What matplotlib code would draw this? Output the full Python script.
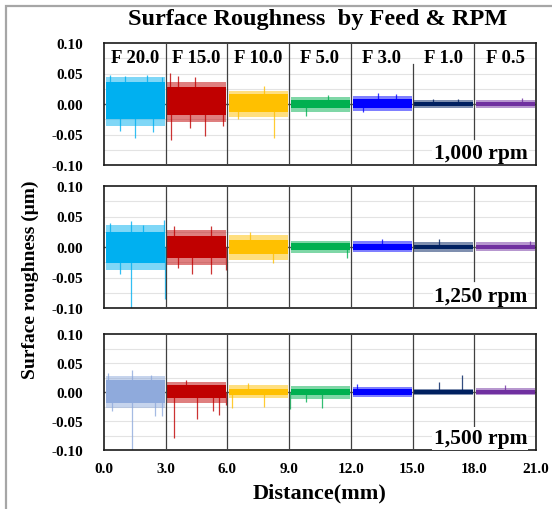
import matplotlib
matplotlib.use("Agg")
import matplotlib.pyplot as plt
from matplotlib.patches import Rectangle

plt.rcParams['font.family'] = ['Liberation Serif', 'DejaVu Serif']
plt.rcParams['font.weight'] = 'bold'

# ---------------- data ----------------
feeds = ["F 20.0", "F 15.0", "F 10.0", "F 5.0", "F 3.0", "F 1.0", "F 0.5"]
seg_start = [0.0, 3.0, 6.0, 9.0, 12.0, 15.0, 18.0]
rpm_labels = ["1,000 rpm", "1,250 rpm", "1,500 rpm"]
x_ticks = [0.0, 3.0, 6.0, 9.0, 12.0, 15.0, 18.0, 21.0]
y_ticks = [-0.10, -0.05, 0.00, 0.05, 0.10]

colors_1000 = ["#00B0F0", "#C00000", "#FFC000", "#00B050", "#0000FF", "#002060", "#7030A0"]
colors_1250 = ["#00B0F0", "#C00000", "#FFC000", "#00B050", "#0000FF", "#002060", "#7030A0"]
colors_1500 = ["#8FAADC", "#C00000", "#FFC000", "#00B050", "#0000FF", "#002060", "#7030A0"]

# dense band (core) and lighter fringe of each trace segment
core_up_1000 = [0.036, 0.028, 0.016, 0.007, 0.008, 0.004, 0.004]
core_lo_1000 = [-0.024, -0.018, -0.013, -0.007, -0.007, -0.004, -0.004]
fr_up_1000 = [0.044, 0.036, 0.022, 0.012, 0.013, 0.007, 0.007]
fr_lo_1000 = [-0.036, -0.030, -0.021, -0.013, -0.011, -0.006, -0.006]
spikes_1000 = [(0.3, 0.047), (1.0, 0.046), (2.1, 0.048), (2.8, 0.045), (1.5, -0.056), (0.8, -0.045),
               (2.4, -0.046), (3.2, 0.051), (3.6, 0.046), (4.4, 0.045), (3.25, -0.059), (4.9, -0.053),
               (5.8, -0.036), (4.2, -0.040), (7.8, 0.030), (8.25, -0.056), (6.5, -0.024),
               (9.8, -0.020), (10.9, 0.015), (13.3, 0.018), (14.2, 0.016), (12.6, -0.013),
               (16.0, 0.009), (17.2, 0.009), (20.3, 0.010)]

core_up_1250 = [0.025, 0.018, 0.011, 0.006, 0.005, 0.004, 0.004]
core_lo_1250 = [-0.026, -0.018, -0.011, -0.005, -0.005, -0.004, -0.004]
fr_up_1250 = [0.036, 0.028, 0.019, 0.010, 0.010, 0.009, 0.008]
fr_lo_1250 = [-0.038, -0.030, -0.022, -0.010, -0.009, -0.008, -0.007]
spikes_1250 = [(0.3, 0.040), (1.3, 0.043), (2.9, 0.044), (1.9, 0.036), (1.3, -0.100), (2.95, -0.085),
               (0.8, -0.045), (3.4, 0.035), (5.2, 0.035), (4.3, -0.045), (5.2, -0.044),
               (5.95, -0.037), (3.6, -0.035), (7.1, 0.025), (8.2, -0.027), (11.8, -0.018),
               (13.5, 0.013), (16.3, 0.013), (20.7, 0.010)]

core_up_1500 = [0.020, 0.012, 0.006, 0.005, 0.005, 0.003, 0.003]
core_lo_1500 = [-0.019, -0.011, -0.006, -0.005, -0.005, -0.003, -0.003]
fr_up_1500 = [0.027, 0.017, 0.012, 0.010, 0.009, 0.006, 0.007]
fr_lo_1500 = [-0.028, -0.019, -0.011, -0.012, -0.009, -0.005, -0.006]
spikes_1500 = [(0.2, 0.032), (1.35, 0.038), (2.3, 0.030), (1.35, -0.100), (2.5, -0.042), (2.8, -0.042),
               (0.4, -0.033), (3.4, -0.080), (4.5, -0.046), (5.3, -0.032), (5.6, -0.040),
               (5.95, -0.022), (4.0, 0.020), (6.2, -0.028), (7.8, -0.025), (7.0, 0.016),
               (9.05, -0.030), (10.6, -0.028), (9.8, -0.018), (12.3, 0.013), (16.3, 0.018),
               (17.4, 0.030), (19.5, 0.012)]

panels = [
    (rpm_labels[0], colors_1000, core_up_1000, core_lo_1000, fr_up_1000, fr_lo_1000, spikes_1000),
    (rpm_labels[1], colors_1250, core_up_1250, core_lo_1250, fr_up_1250, fr_lo_1250, spikes_1250),
    (rpm_labels[2], colors_1500, core_up_1500, core_lo_1500, fr_up_1500, fr_lo_1500, spikes_1500),
]

# ---------------- figure ----------------
W, H = 552, 510
fig = plt.figure(figsize=(W / 100, H / 100), dpi=100)
fig.patches.append(Rectangle((6 / W, -0.1), 2.0, 1.1 - 7 / H, transform=fig.transFigure,
                             fill=False, edgecolor="#A6A6A6", lw=1.6))

L, R = 104, 536
boxes = [(44, 166), (187, 309), (335, 451)]
axes = []
for top, bot in boxes:
    ax = fig.add_axes([L / W, 1 - bot / H, (R - L) / W, (bot - top) / H])
    axes.append(ax)

vline_cut = [{18.0: (-0.057, 0.1), 15.0: (-0.1, 0.065)},
             {18.0: (-0.055, 0.1)},
             {18.0: (-0.060, 0.1)}]

for i, (ax, pdata) in enumerate(zip(axes, panels)):
    rpm, cols, cu, cl, fu, fl, spk = pdata
    ax.set_xlim(0, 21)
    ax.set_ylim(-0.1, 0.1)
    for g in [-0.075, -0.05, -0.025, 0.025, 0.05, 0.075]:
        ax.axhline(g, color="#E3E3E3", lw=0.8, zorder=0)
    ax.axhline(0, color="#595959", lw=1.0, zorder=1)
    for k, xs in enumerate(seg_start):
        x0, x1 = xs + 0.08, xs + 2.95
        ax.fill_between([x0, x1], [fl[k], fl[k]], [fu[k], fu[k]], color=cols[k], alpha=0.5,
                        lw=0, zorder=2)
        ax.fill_between([x0, x1], [cl[k], cl[k]], [cu[k], cu[k]], color=cols[k], lw=0, zorder=3)
    for (sx, sy) in spk:
        k = min(int(sx // 3), 6)
        ax.vlines(sx, 0, sy, color=cols[k], lw=0.9, alpha=0.8, zorder=2)
    for xs in seg_start[1:]:
        lo, hi = vline_cut[i].get(xs, (-0.1, 0.1))
        ax.plot([xs, xs], [lo, hi], color="#404040", lw=0.9, zorder=4)
    ax.set_yticks(y_ticks)
    ax.set_yticklabels([f"{v:.2f}" for v in y_ticks], fontsize=11, fontweight="bold")
    ax.set_xticks(x_ticks)
    ax.tick_params(length=0, pad=15, axis="y")
    ax.tick_params(length=0, pad=9, axis="x")
    if i < 2:
        ax.set_xticklabels([])
    else:
        ax.set_xticklabels([f"{v:.1f}" for v in x_ticks], fontsize=11, fontweight="bold")
    for s in ax.spines.values():
        s.set_linewidth(1.2)
        s.set_color("#1a1a1a")
    ax.text(18.3, -0.080, rpm, fontsize=15.5, fontweight="bold", ha="center", va="center",
            zorder=5, bbox=dict(facecolor="white", edgecolor="none", pad=1.0))
    if i == 0:
        for k, xs in enumerate(seg_start):
            ax.text(xs + 1.5, 0.077, feeds[k], fontsize=13.5, fontweight="bold",
                    ha="center", va="center", zorder=5)

fig.text(318 / W, 1 - 20 / H, "Surface Roughness  by Feed & RPM", fontsize=17.5,
         fontweight="bold", ha="center", va="center")
fig.text(30 / W, 1 - 280 / H, "Surface roughness (μm)", fontsize=14, fontweight="bold",
         rotation=90, ha="center", va="center")
fig.text(320 / W, 1 - 493 / H, "Distance(mm)", fontsize=16, fontweight="bold",
         ha="center", va="center")

fig.savefig("out.png", dpi=100)
